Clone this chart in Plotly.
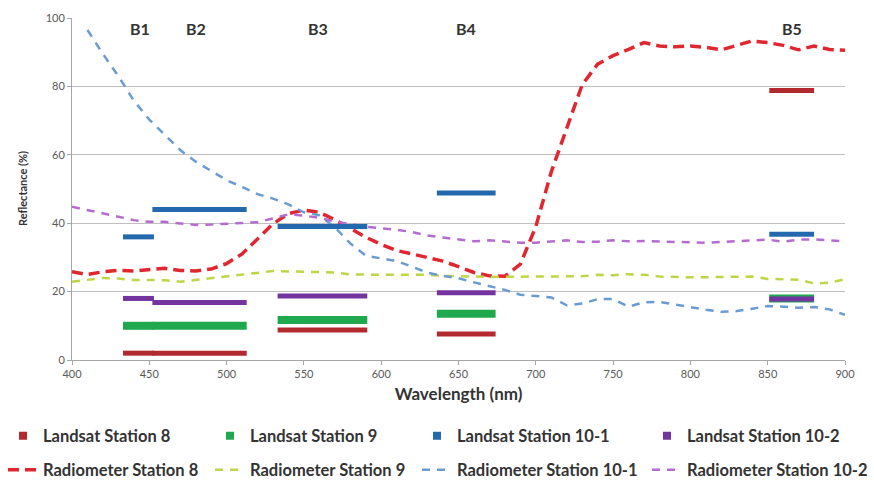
import plotly.graph_objects as go

# ---- data ----
wl = list(range(400, 901, 10))
rad8 = [25.8, 25.0, 25.8, 26.2, 26.0, 26.4, 26.8, 26.2, 26.0, 26.6,
        28.2, 31.0, 35.3, 39.8, 42.8, 43.8, 43.2, 41.0, 38.5, 35.9,
        33.8, 32.0, 31.0, 30.0, 28.9, 27.3, 25.6, 24.6, 24.5, 28.0,
        39.0, 55.0, 68.0, 80.5, 86.5, 89.0, 90.8, 92.8, 91.8, 91.6,
        91.8, 91.4, 90.7, 92.0, 93.3, 92.8, 92.0, 90.7, 91.8, 90.8, 90.6]
rad9 = [22.9, 23.4, 24.0, 23.8, 23.4, 23.4, 23.3, 22.9, 23.4, 24.0,
        24.4, 24.9, 25.6, 26.0, 25.9, 25.8, 25.8, 25.6, 25.0, 24.9,
        24.9, 24.9, 24.9, 24.9, 24.6, 24.4, 24.4, 24.3, 24.3, 24.4,
        24.4, 24.4, 24.4, 24.5, 24.9, 24.8, 25.1, 24.9, 24.4, 24.2,
        24.2, 24.2, 24.2, 24.3, 24.4, 23.7, 23.5, 23.5, 22.4, 22.6, 23.6]
wl101 = list(range(410, 901, 10))
rad101 = [96.5, 89.5, 83.0, 75.8, 70.3, 66.0, 61.4, 58.0, 55.2,
          52.6, 50.6, 48.5, 47.2, 45.5, 43.2, 42.3, 38.8, 34.1, 30.5,
          29.8, 28.9, 27.3, 25.5, 24.6, 23.9, 22.7, 21.6, 20.5, 19.1,
          18.7, 18.3, 16.0, 16.5, 17.8, 17.8, 15.6, 16.9, 17.0, 16.2,
          15.5, 14.7, 14.1, 14.3, 15.0, 15.8, 15.6, 15.3, 15.5, 14.8, 13.2]
rad102 = [44.8, 43.9, 43.0, 41.9, 40.9, 40.4, 40.4, 40.0, 39.5, 39.6,
          39.9, 40.0, 40.3, 41.4, 42.6, 42.2, 41.6, 40.5, 39.7, 39.0,
          38.5, 38.1, 37.4, 36.4, 35.8, 35.3, 34.7, 35.0, 34.7, 34.3,
          34.3, 34.6, 35.0, 34.5, 34.6, 35.0, 34.7, 34.8, 34.6, 34.6,
          34.4, 34.3, 34.5, 34.8, 34.9, 35.2, 34.6, 35.2, 35.3, 35.0, 34.7]

band_names = ["B1", "B2", "B3", "B4", "B5"]
band_label_x = [444, 480, 559, 655, 866]
band_start = [433, 452, 533, 636, 851]
band_end = [453, 513, 591, 674, 880]
land8 = [2, 2, 8.8, 7.6, 78.8]
land9 = [10, 10, 11.7, 13.5, 18]
land101 = [36, 44, 39, 48.8, 36.8]
land102 = [18, 16.8, 18.7, 19.7, 17.8]

land_names = ["Landsat Station 8", "Landsat Station 9",
              "Landsat Station 10-1", "Landsat Station 10-2"]
rad_names = ["Radiometer Station 8", "Radiometer Station 9",
             "Radiometer Station 10-1", "Radiometer Station 10-2"]
x_title = "Wavelength (nm)"
y_title = "Reflectance (%)"

# ---- style ----
land_colors = ["#B22A2E", "#20A84E", "#2468AE", "#7434A0"]
land_widths = [5, 8, 5, 5]
rad_colors = ["#E0262E", "#BFD545", "#6A9BD3", "#B46CD0"]
rad_widths = [3.5, 2.5, 2.5, 2.5]
rad_dash = ["11px,6px", "8px,7px", "8px,7px", "8px,7px"]
FONT = "Lato"
W, H = 874, 485
ML, MR, MT, MB = 72, 29, 18, 125
col_px = [3, 210, 417, 647]      # legend column left edges (px)
row1_px, row2_px = 436, 470      # legend row centres (px)

fig = go.Figure()

rad_x = [wl, wl, wl101, wl]
rad_y = [rad8, rad9, rad101, rad102]
for i, (name, xs, ys) in enumerate(zip(rad_names, rad_x, rad_y)):
    fig.add_trace(go.Scatter(x=xs, y=ys, mode="lines", name=name,
                             line=dict(color=rad_colors[i], width=rad_widths[i],
                                       dash=rad_dash[i]),
                             legend="legend%d" % (i + 5), hoverinfo="skip"))

for i, (name, vals) in enumerate(zip(land_names, [land8, land9, land101, land102])):
    xs, ys = [], []
    for s, e, v in zip(band_start, band_end, vals):
        xs += [s, e, None]
        ys += [v, v, None]
    fig.add_trace(go.Scatter(x=xs, y=ys, mode="lines",
                             line=dict(color=land_colors[i], width=land_widths[i]),
                             showlegend=False, hoverinfo="skip"))
    fig.add_trace(go.Scatter(x=[None], y=[None], mode="markers", name=name,
                             marker=dict(symbol="square", size=8, color=land_colors[i]),
                             legend="legend" if i == 0 else "legend%d" % (i + 1)))

for n, x in zip(band_names, band_label_x):
    fig.add_annotation(x=x, y=97, xref="x", yref="y", text="<b>%s</b>" % n,
                       showarrow=False, font=dict(family=FONT, size=16, color="#333333"))

# y-axis title as rotated annotation
plot_w = W - ML - MR
fig.add_annotation(x=-(ML - 22) / plot_w, y=0.5, xref="paper", yref="paper",
                   text="<b>%s</b>" % y_title, textangle=-90, showarrow=False,
                   xanchor="center", yanchor="middle",
                   font=dict(family=FONT, size=11, color="#333333"))

legends = {}
for i in range(4):
    key1 = "legend" if i == 0 else "legend%d" % (i + 1)
    legends[key1] = dict(orientation="v", xref="container", yref="container",
                         x=col_px[i] / W, y=1 - row1_px / H,
                         xanchor="left", yanchor="middle",
                         font=dict(family=FONT, size=16.5, color="#333333", weight="bold"),
                         bgcolor="rgba(0,0,0,0)")
    legends["legend%d" % (i + 5)] = dict(orientation="v", xref="container", yref="container",
                                         x=col_px[i] / W, y=1 - row2_px / H,
                                         xanchor="left", yanchor="middle",
                                         font=dict(family=FONT, size=16.5, color="#333333",
                                                   weight="bold"),
                                         bgcolor="rgba(0,0,0,0)")

fig.update_layout(
    width=W, height=H,
    margin=dict(l=ML, r=MR, t=MT, b=MB, autoexpand=False),
    plot_bgcolor="white", paper_bgcolor="white",
    font=dict(family=FONT, color="#404040"),
    xaxis=dict(range=[400, 900], tickvals=list(range(400, 901, 50)),
               showgrid=False, showline=True, linecolor="#A6A6A6", linewidth=1,
               ticks="outside", ticklen=4, tickcolor="#A6A6A6",
               tickfont=dict(size=11, color="#595959"),
               title=dict(text="<b>%s</b>" % x_title, font=dict(size=17, color="#333333"),
                          standoff=8),
               zeroline=False, automargin=True),
    yaxis=dict(range=[0, 100], tickvals=list(range(0, 101, 20)),
               showgrid=True, gridcolor="#BFBFBF", gridwidth=1,
               showline=True, linecolor="#A6A6A6", linewidth=1,
               ticks="outside", ticklen=4, tickcolor="#A6A6A6",
               tickfont=dict(size=11, color="#595959"),
               zeroline=False, automargin=False),
    **legends,
)

fig.write_html("out.html", config={"displayModeBar": False},
               post_script="document.body.style.margin='0';")
